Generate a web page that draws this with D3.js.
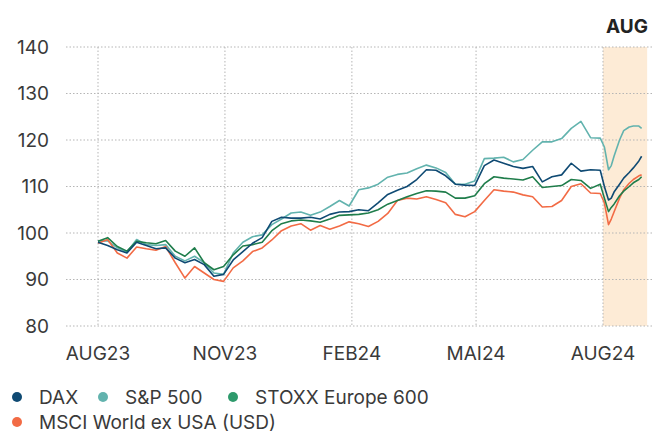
<!DOCTYPE html>
<html>
<head>
<meta charset="utf-8">
<script src="https://d3js.org/d3.v7.min.js"></script>
<style>
    body { margin: 0; background: #fff; }
    svg text { font-family: Inter, "Liberation Sans", sans-serif; fill: #3a3a3a; }
</style>
</head>
<body>
<div id="chart"></div>
<script>
    // weekly closes (indexed), plus a few extra days in Aug 2024
    var dates = [
        '2023-08-01','2023-08-08','2023-08-15','2023-08-22','2023-08-29','2023-09-05','2023-09-12','2023-09-19',
        '2023-09-26','2023-10-03','2023-10-10','2023-10-17','2023-10-24','2023-10-31','2023-11-07','2023-11-14',
        '2023-11-21','2023-11-28','2023-12-05','2023-12-12','2023-12-19','2023-12-26','2024-01-02','2024-01-09',
        '2024-01-16','2024-01-23','2024-01-30','2024-02-06','2024-02-13','2024-02-20','2024-02-27','2024-03-05',
        '2024-03-12','2024-03-19','2024-03-26','2024-04-02','2024-04-09','2024-04-16','2024-04-23','2024-04-30',
        '2024-05-07','2024-05-14','2024-05-21','2024-05-28','2024-06-04','2024-06-11','2024-06-18','2024-06-25',
        '2024-07-02','2024-07-09','2024-07-16','2024-07-23','2024-07-30','2024-08-02','2024-08-05','2024-08-07',
        '2024-08-09','2024-08-13','2024-08-16','2024-08-20','2024-08-23','2024-08-27','2024-08-29'
    ];

    var dax = [
        98.0, 97.3, 96.4, 95.7, 98.0, 97.3, 96.6, 96.8, 94.6, 93.6, 94.3, 93.2, 90.7, 91.1, 94.2, 96.0,
        97.8, 99.0, 102.5, 103.4, 103.2, 103.2, 103.4, 103.0, 104.0, 104.5, 104.6, 105.0, 104.8, 106.5, 108.3, 109.2,
        110.0, 111.5, 113.6, 113.5, 112.3, 110.5, 110.3, 110.2, 114.5, 115.7, 115.0, 114.3, 113.9, 114.3, 111.0, 112.1,
        112.5, 115.0, 113.3, 113.6, 113.5, 110.0, 107.1, 107.5, 108.8, 110.5, 111.8, 113.0, 114.0, 115.5, 116.5
    ];
    var sp500 = [
        98.3, 98.3, 96.8, 95.9, 98.6, 97.5, 97.3, 97.5, 95.0, 94.0, 95.0, 93.6, 91.4, 91.1, 95.7, 98.0,
        99.2, 99.6, 101.8, 103.0, 104.3, 104.5, 103.8, 104.5, 105.7, 107.0, 105.8, 109.3, 109.7, 110.5, 112.0, 112.6,
        112.9, 113.8, 114.6, 114.0, 113.0, 110.5, 110.5, 111.2, 116.0, 116.1, 116.3, 115.3, 115.8, 117.8, 119.6, 119.6,
        120.3, 122.5, 124.0, 120.5, 120.4, 118.5, 113.6, 114.5, 116.5, 120.0, 122.0, 122.8, 123.0, 123.0, 122.5
    ];
    var stoxx = [
        98.2, 99.0, 97.1, 96.1, 98.2, 97.9, 97.7, 98.4, 96.1, 95.0, 96.8, 93.6, 92.1, 92.8, 95.3, 97.2,
        97.5, 98.0, 100.5, 102.0, 102.6, 102.8, 102.6, 102.3, 103.0, 103.8, 103.9, 104.0, 104.3, 105.0, 106.2, 107.0,
        107.8, 108.5, 109.1, 109.0, 108.8, 107.5, 107.5, 108.0, 110.6, 112.1, 111.8, 111.6, 111.4, 112.1, 109.8, 110.0,
        110.2, 111.5, 111.3, 109.6, 110.5, 107.5, 104.6, 105.5, 106.2, 108.0, 109.0, 110.0, 110.8, 111.5, 112.1
    ];
    var msci = [
        97.8, 98.6, 95.7, 94.6, 97.0, 96.6, 96.3, 97.1, 93.6, 90.3, 92.8, 91.4, 90.0, 89.6, 92.5, 94.0,
        96.0, 96.8, 98.5, 100.5, 101.5, 102.0, 100.6, 101.6, 100.8, 101.5, 102.4, 102.0, 101.4, 102.5, 104.2, 107.0,
        107.5, 107.3, 107.8, 107.2, 106.5, 104.0, 103.5, 104.6, 107.0, 109.3, 109.0, 108.8, 108.2, 107.8, 105.6, 105.7,
        107.0, 110.0, 110.6, 108.6, 108.5, 106.5, 101.8, 103.0, 104.5, 107.5, 109.3, 110.7, 111.5, 112.3, 112.5
    ];

    var seriesNames = ['DAX', 'S&P 500', 'STOXX Europe 600', 'MSCI World ex USA (USD)'];
    var seriesColors = ['#0f4a73', '#62b3ae', '#1f7d4b', '#f26b45'];
    var legendColors = ['#0f4a73', '#62b3ae', '#2e9a6c', '#f26b45'];
    var yTicks = [80, 90, 100, 110, 120, 130, 140];
    var xTickDates = ['2023-08-01', '2023-11-01', '2024-02-01', '2024-05-01', '2024-08-01'];
    var xTickLabels = ['AUG23', 'NOV23', 'FEB24', 'MAI24', 'AUG24'];
    var highlight = ['2024-08-01', '2024-09-02'];

    var parse = d3.timeParse('%Y-%m-%d');
    var W = 657, H = 433;

    var svg = d3.select('#chart').append('svg')
        .attr('width', W)
        .attr('height', H);

    var x = d3.scaleTime()
        .domain([parse('2023-08-01'), parse('2024-08-01')])
        .range([98, 603]);
    var y = d3.scaleLinear()
        .domain([80, 140])
        .range([326, 47]);

    // shaded August band
    svg.append('rect')
        .attr('x', x(parse(highlight[0])))
        .attr('y', y(140))
        .attr('width', x(parse(highlight[1])) - x(parse(highlight[0])))
        .attr('height', y(80) - y(140))
        .attr('fill', '#fdebd6');

    svg.append('text')
        .attr('x', 648)
        .attr('y', 33)
        .attr('text-anchor', 'end')
        .style('font-size', '19px')
        .style('font-weight', 'bold')
        .style('fill', '#222')
        .text('AUG');

    // horizontal grid + y labels
    var yAxis = svg.append('g');
    yTicks.forEach(function(t) {
        yAxis.append('line')
            .attr('x1', 66).attr('x2', 652)
            .attr('y1', y(t)).attr('y2', y(t))
            .attr('stroke', '#b5b5b5')
            .attr('stroke-width', 1)
            .attr('stroke-dasharray', '1.5,2');
        yAxis.append('text')
            .attr('x', 49)
            .attr('y', y(t))
            .attr('dy', '0.35em')
            .attr('text-anchor', 'end')
            .style('font-size', '19px')
            .text(t);
    });

    // vertical grid + x labels
    var xAxis = svg.append('g');
    xTickDates.forEach(function(d, i) {
        var px = x(parse(d));
        xAxis.append('line')
            .attr('x1', px).attr('x2', px)
            .attr('y1', y(140)).attr('y2', y(80))
            .attr('stroke', '#b5b5b5')
            .attr('stroke-width', 1)
            .attr('stroke-dasharray', '1.5,2');
        xAxis.append('text')
            .attr('x', px)
            .attr('y', 360)
            .attr('text-anchor', 'middle')
            .style('font-size', '19px')
            .text(xTickLabels[i]);
    });

    var parsedDates = dates.map(parse);
    var allSeries = [dax, sp500, stoxx, msci];

    var line = d3.line()
        .x(function(d, i) { return x(parsedDates[i]); })
        .y(function(d) { return y(d); });

    // draw S&P first so the others sit on top like the original
    [1, 3, 2, 0].forEach(function(k) {
        svg.append('path')
            .datum(allSeries[k])
            .attr('d', line)
            .attr('fill', 'none')
            .attr('stroke', seriesColors[k])
            .attr('stroke-width', 1.6)
            .attr('stroke-linejoin', 'round');
    });

    // legend
    var legendPos = [[17, 397], [103, 397], [233, 397], [17, 422]];
    var legend = svg.selectAll('.legend')
        .data(seriesNames)
        .enter()
        .append('g')
        .attr('class', 'legend')
        .attr('transform', function(d, i) {
            return 'translate(' + legendPos[i][0] + ',' + legendPos[i][1] + ')';
        });

    legend.append('circle')
        .attr('r', 5)
        .attr('fill', function(d, i) { return legendColors[i]; });

    legend.append('text')
        .attr('x', 22)
        .attr('dy', '0.35em')
        .style('font-size', '19px')
        .text(function(d) { return d; });
</script>
</body>
</html>
